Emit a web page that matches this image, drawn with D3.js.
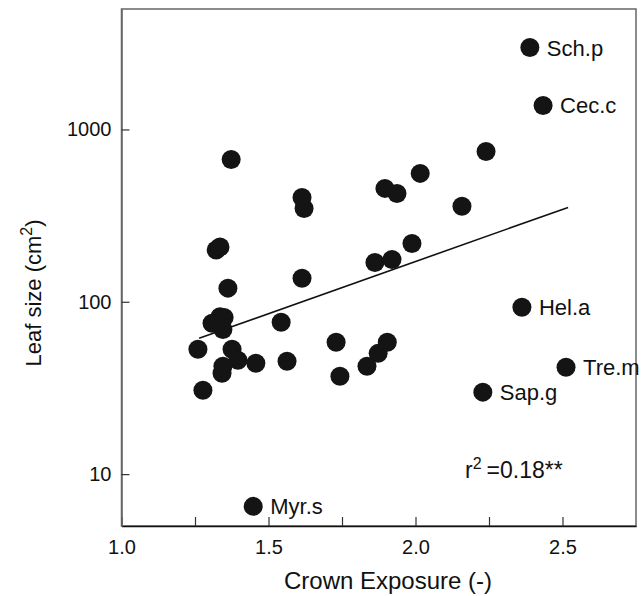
<!DOCTYPE html>
<html>
<head>
<meta charset="utf-8">
<script src="https://cdn.jsdelivr.net/npm/d3@7"></script>
<style>
  body { margin: 0; background: #fff; }
  text { font-family: "Liberation Sans", Arial, sans-serif; fill: #111; }
</style>
</head>
<body>
<div id="chart"></div>
<script>
// crown exposure (-) and leaf size (cm2) per species
const exposure = [1.260, 1.277, 1.308, 1.335, 1.349, 1.345, 1.322, 1.335, 1.362, 1.373,
  1.376, 1.396, 1.345, 1.342, 1.457, 1.448, 1.543, 1.563, 1.614, 1.621,
  1.614, 1.730, 1.743, 1.835, 1.862, 1.873, 1.896, 1.904, 1.920, 1.937,
  1.988, 2.016, 2.158, 2.229, 2.240, 2.362, 2.389, 2.434, 2.512];
const leafSize = [53, 30.7, 75, 82, 81, 69, 200, 208, 120, 670,
  53, 45.8, 42.3, 38.5, 44, 6.5, 76, 45.2, 403, 348,
  137, 58.2, 37, 42.3, 169, 50.2, 455, 58.2, 176, 425,
  218, 556, 358, 29.9, 745, 92.9, 2986, 1377, 41.7];
const species = ["", "", "", "", "", "", "", "", "", "",
  "", "", "", "", "", "Myr.s", "", "", "", "",
  "", "", "", "", "", "", "", "", "", "",
  "", "", "", "Sap.g", "", "Hel.a", "Sch.p", "Cec.c", "Tre.m"];

// fitted line (log leaf size vs exposure), endpoints
const fitX = [1.264, 2.519];
const fitY = [61.4, 353];

const xTicks = [1.0, 1.25, 1.5, 1.75, 2.0, 2.25, 2.5];
const yTicks = [10, 100, 1000];

const W = 643, H = 596;
const plotL = 121.5, plotT = 9, plotR = 636, plotB = 526;

const svg = d3.select("#chart").append("svg")
  .attr("width", W).attr("height", H);

const x = d3.scaleLinear().domain([1.0, 2.75]).range([plotL, plotR]);
const y = d3.scaleLog().domain([5, 5000]).range([plotB, plotT]);

// frame
svg.append("rect")
  .attr("x", plotL).attr("y", plotT)
  .attr("width", plotR - plotL).attr("height", plotB - plotT)
  .attr("fill", "none").attr("stroke", "#666").attr("stroke-width", 1.5);

// x axis, ticks pointing in
const xAxis = d3.axisBottom(x)
  .tickValues(xTicks)
  .tickSizeInner(-9).tickSizeOuter(0)
  .tickPadding(14)
  .tickFormat(d => (d * 2) % 1 === 0 ? d3.format(".1f")(d) : "");
const gx = svg.append("g")
  .attr("transform", `translate(0,${plotB})`)
  .call(xAxis);
gx.select(".domain").attr("stroke", "#111").attr("stroke-width", 1.5);
gx.selectAll(".tick line").attr("stroke", "#333").attr("stroke-width", 1.2);
gx.selectAll(".tick text").attr("font-size", 20).attr("fill", "#111");

// y axis
const yAxis = d3.axisLeft(y)
  .tickValues(yTicks)
  .tickSizeInner(-8).tickSizeOuter(0)
  .tickPadding(10)
  .tickFormat(d3.format("d"));
const gy = svg.append("g")
  .attr("transform", `translate(${plotL},0)`)
  .call(yAxis);
gy.select(".domain").attr("stroke", "#666").attr("stroke-width", 1.5);
gy.selectAll(".tick line").attr("stroke", "#333").attr("stroke-width", 1.2);
gy.selectAll(".tick text").attr("font-size", 20).attr("fill", "#111");

// axis titles
svg.append("text")
  .attr("x", 388).attr("y", 589)
  .attr("text-anchor", "middle").attr("font-size", 24)
  .text("Crown Exposure (-)");

const yt = svg.append("text")
  .attr("transform", "translate(41,293) rotate(-90)")
  .attr("text-anchor", "middle").attr("font-size", 22);
yt.append("tspan").text("Leaf size (cm");
yt.append("tspan").attr("font-size", 16).attr("dy", -9).text("2");
yt.append("tspan").attr("dy", 9).text(")");

// regression line
svg.append("line")
  .attr("x1", x(fitX[0])).attr("y1", y(fitY[0]))
  .attr("x2", x(fitX[1])).attr("y2", y(fitY[1]))
  .attr("stroke", "#111").attr("stroke-width", 1.6);

const pts = exposure.map((e, i) => ({ e, s: leafSize[i], name: species[i] }));

svg.selectAll("circle.pt")
  .data(pts)
  .enter()
  .append("circle")
  .attr("class", "pt")
  .attr("cx", d => x(d.e))
  .attr("cy", d => y(d.s))
  .attr("r", 9.5)
  .attr("fill", "#141414");

svg.selectAll("text.lab")
  .data(pts.filter(d => d.name))
  .enter()
  .append("text")
  .attr("class", "lab")
  .attr("x", d => x(d.e) + 17)
  .attr("y", d => y(d.s))
  .attr("dy", "0.36em")
  .attr("font-size", 22)
  .text(d => d.name);

// r squared note
const rt = svg.append("text")
  .attr("x", 465).attr("y", 478)
  .attr("font-size", 23);
rt.append("tspan").text("r");
rt.append("tspan").attr("font-size", 16).attr("dy", -9).text("2");
rt.append("tspan").attr("dy", 9).attr("dx", 5).text("=0.18**");
</script>
</body>
</html>
